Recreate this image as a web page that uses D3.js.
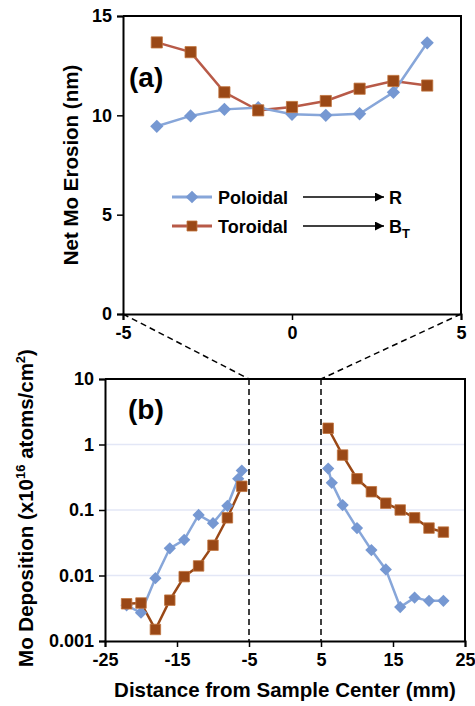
<!DOCTYPE html>
<html>
<head>
<meta charset="utf-8">
<script src="https://cdn.jsdelivr.net/npm/d3@7"></script>
<style>
  body { margin: 0; background: #fff; }
  text { font-family: "Liberation Sans", Arial, sans-serif; font-weight: bold; fill: #000; }
</style>
</head>
<body>
<svg id="chart" width="475" height="706"></svg>
<script>
//
// Data
//

// (a) net erosion, x in mm from sample center
var topX = [-4, -3, -2, -1, 0, 1, 2, 3, 4]
var topPoloidal = [9.45, 9.97, 10.3, 10.39, 10.05, 10.0, 10.08, 11.16, 13.65]
var topToroidal = [13.67, 13.18, 11.16, 10.25, 10.42, 10.72, 11.34, 11.73, 11.5]

// (b) deposition, x10^16 atoms/cm2
var polLeftX = [-22, -20, -18, -16, -14, -12, -10, -8, -6.5, -6]
var polLeft = [0.0035, 0.0027, 0.0091, 0.026, 0.035, 0.084, 0.063, 0.116, 0.30, 0.40]
var torLeftX = [-22, -20, -18, -16, -14, -12, -10, -8, -6]
var torLeft = [0.0037, 0.0038, 0.0015, 0.0042, 0.0096, 0.014, 0.029, 0.076, 0.23]
var polRightX = [6, 6.5, 8, 10, 12, 14, 16, 18, 20, 22]
var polRight = [0.43, 0.26, 0.119, 0.053, 0.0245, 0.0124, 0.0033, 0.0046, 0.0041, 0.0041]
var torRightX = [6, 8, 10, 12, 14, 16, 18, 20, 22]
var torRight = [1.77, 0.69, 0.30, 0.19, 0.127, 0.10, 0.076, 0.053, 0.046]

var topXTicks = [-5, 0, 5]
var topYTicks = [0, 5, 10, 15]
var botXTicks = [-25, -15, -5, 5, 15, 25]
var botYTicks = [10, 1, 0.1, 0.01, 0.001]
var botYLabels = ['10', '1', '0.1', '0.01', '0.001']

// colors
var colorPolMarker = '#7698d2'
var colorPolLine = '#87a6d9'
var colorTorMarker = '#9a4816'
var colorTorEdge = '#c0743e'
var colorTorLineTop = '#b85a48'
var colorTorLineBot = '#9a4816'
var colorGrid = '#e3e7f6'

var tickFont = 18
var titleFont = 20.5

var svg = d3.select('#chart')

//
// Scales
//

var xTop = d3.scaleLinear().domain([-5, 5]).range([123, 461])
var yTop = d3.scaleLinear().domain([0, 15]).range([314, 16])
var xBot = d3.scaleLinear().domain([-25, 25]).range([105, 465])
var yBot = d3.scaleLog().domain([0.001, 10]).range([641, 379])

// plain hyphen for negatives, like the original
function plain(d) { return String(d) }

function styleAxis(g, size) {
  g.select('.domain').attr('stroke', '#000').attr('stroke-width', 2)
  g.selectAll('.tick line').attr('stroke', '#000').attr('stroke-width', 1.5)
  g.selectAll('.tick text').attr('font-size', size)
    .attr('font-family', '"Liberation Sans", Arial, sans-serif')
    .attr('font-weight', 'bold').attr('fill', '#000')
}

function diamond(g, xs, ys, sx, sy, area, fill) {
  g.selectAll(null).data(xs).enter().append('path')
    .attr('d', d3.symbol().type(d3.symbolSquare).size(area))
    .attr('transform', function(d, i) { return 'translate(' + sx(d) + ',' + sy(ys[i]) + ') rotate(45)' })
    .attr('fill', fill)
}

function square(g, xs, ys, sx, sy, area) {
  g.selectAll(null).data(xs).enter().append('path')
    .attr('d', d3.symbol().type(d3.symbolSquare).size(area))
    .attr('transform', function(d, i) { return 'translate(' + sx(d) + ',' + sy(ys[i]) + ')' })
    .attr('fill', colorTorMarker)
    .attr('stroke', colorTorEdge).attr('stroke-width', 0.8)
}

function line(g, xs, ys, sx, sy, color) {
  var pts = xs.map(function(d, i) { return [sx(d), sy(ys[i])] })
  g.append('path').attr('d', d3.line()(pts))
    .attr('fill', 'none').attr('stroke', color).attr('stroke-width', 2.5)
}

//
// Panel (a)
//

var gTop = svg.append('g')

gTop.append('g').attr('transform', 'translate(0,314)')
  .call(d3.axisBottom(xTop).tickValues(topXTicks).tickSize(6).tickPadding(6).tickFormat(plain))
  .call(styleAxis, tickFont)
gTop.append('g').attr('transform', 'translate(123,0)')
  .call(d3.axisLeft(yTop).tickValues(topYTicks).tickSize(6).tickPadding(5).tickFormat(plain))
  .call(styleAxis, tickFont)
gTop.append('path').attr('d', d3.line()([[xTop(-5), yTop(15)], [xTop(5), yTop(15)], [xTop(5), yTop(0)]]))
  .attr('fill', 'none').attr('stroke', '#000').attr('stroke-width', 2)

line(gTop, topX, topToroidal, xTop, yTop, colorTorLineTop)
line(gTop, topX, topPoloidal, xTop, yTop, colorPolLine)
diamond(gTop, topX, topPoloidal, xTop, yTop, 88, colorPolMarker)
square(gTop, topX, topToroidal, xTop, yTop, 125)

gTop.append('text').attr('x', 129).attr('y', 87).attr('font-size', 28).text('(a)')

// legend
var legend = gTop.append('g')
svg.append('defs').append('marker').attr('id', 'arrow')
  .attr('viewBox', '0 0 10 10').attr('refX', 10).attr('refY', 5)
  .attr('markerWidth', 6).attr('markerHeight', 6).attr('orient', 'auto')
  .append('path').attr('d', 'M0,0 L10,5 L0,10 Z').attr('fill', '#000')

var legendRows = [
  { name: 'Poloidal', dir: 'R', sub: '', y: 197, color: colorPolLine },
  { name: 'Toroidal', dir: 'B', sub: 'T', y: 226, color: colorTorLineTop }
]
legendRows.forEach(function(r, i) {
  legend.append('line').attr('x1', 172).attr('x2', 212).attr('y1', r.y).attr('y2', r.y)
    .attr('stroke', r.color).attr('stroke-width', 3)
  if (i === 0) {
    legend.append('path').attr('d', d3.symbol().type(d3.symbolSquare).size(80))
      .attr('transform', 'translate(192,' + r.y + ') rotate(45)').attr('fill', colorPolMarker)
  } else {
    legend.append('path').attr('d', d3.symbol().type(d3.symbolSquare).size(100))
      .attr('transform', 'translate(192,' + r.y + ')').attr('fill', colorTorMarker)
      .attr('stroke', colorTorEdge).attr('stroke-width', 0.8)
  }
  legend.append('text').attr('x', 218).attr('y', r.y + 6.5).attr('font-size', 18).text(r.name)
  legend.append('line').attr('x1', 303).attr('x2', 384).attr('y1', r.y).attr('y2', r.y)
    .attr('stroke', '#000').attr('stroke-width', 1.5).attr('marker-end', 'url(#arrow)')
  var t = legend.append('text').attr('x', 389).attr('y', r.y + 6.5).attr('font-size', 18).text(r.dir)
  if (r.sub) t.append('tspan').attr('font-size', 13).attr('dy', 5).text(r.sub)
})

svg.append('text').attr('transform', 'translate(78,165) rotate(-90)')
  .attr('text-anchor', 'middle').attr('font-size', titleFont).text('Net Mo Erosion (nm)')

//
// Panel (b)
//

var gBot = svg.append('g')

gBot.selectAll('.grid').data([1, 0.1, 0.01]).enter().append('line')
  .attr('x1', 106).attr('x2', 464)
  .attr('y1', function(d) { return yBot(d) }).attr('y2', function(d) { return yBot(d) })
  .attr('stroke', colorGrid).attr('stroke-width', 1.5)

gBot.append('g').attr('transform', 'translate(0,641)')
  .call(d3.axisBottom(xBot).tickValues(botXTicks).tickSize(6).tickPadding(6).tickFormat(plain))
  .call(styleAxis, tickFont)
gBot.append('g').attr('transform', 'translate(105,0)')
  .call(d3.axisLeft(yBot).tickValues(botYTicks).tickSize(6).tickPadding(5)
    .tickFormat(function(d, i) { return botYLabels[i] }))
  .call(styleAxis, tickFont)
gBot.append('path').attr('d', d3.line()([[xBot(-25), yBot(10)], [xBot(25), yBot(10)], [xBot(25), yBot(0.001)]]))
  .attr('fill', 'none').attr('stroke', '#000').attr('stroke-width', 2)

// zoom guides between panels
var dash = '6,4'
;[-5, 5].forEach(function(v) {
  gBot.append('line').attr('x1', xBot(v)).attr('x2', xBot(v)).attr('y1', yBot(10)).attr('y2', yBot(0.001))
    .attr('stroke', '#000').attr('stroke-width', 1.5).attr('stroke-dasharray', dash)
  gBot.append('line').attr('x1', xTop(v)).attr('y1', yTop(0)).attr('x2', xBot(v)).attr('y2', yBot(10))
    .attr('stroke', '#000').attr('stroke-width', 1.5).attr('stroke-dasharray', dash)
})

line(gBot, torLeftX, torLeft, xBot, yBot, colorTorLineBot)
line(gBot, torRightX, torRight, xBot, yBot, colorTorLineBot)
line(gBot, polLeftX, polLeft, xBot, yBot, colorPolLine)
line(gBot, polRightX, polRight, xBot, yBot, colorPolLine)
diamond(gBot, polLeftX, polLeft, xBot, yBot, 75, colorPolMarker)
diamond(gBot, polRightX, polRight, xBot, yBot, 75, colorPolMarker)
square(gBot, torLeftX, torLeft, xBot, yBot, 110)
square(gBot, torRightX, torRight, xBot, yBot, 110)

gBot.append('text').attr('x', 128).attr('y', 419).attr('font-size', 28).text('(b)')

var yt = svg.append('text').attr('transform', 'translate(33,508) rotate(-90)')
  .attr('text-anchor', 'middle').attr('font-size', titleFont)
yt.append('tspan').text('Mo Deposition (x10')
yt.append('tspan').attr('font-size', 13).attr('dy', -8).text('16')
yt.append('tspan').attr('dy', 8).text(' atoms/cm')
yt.append('tspan').attr('font-size', 13).attr('dy', -8).text('2')
yt.append('tspan').attr('dy', 8).text(')')

svg.append('text').attr('x', 285).attr('y', 697).attr('text-anchor', 'middle')
  .attr('font-size', titleFont).text('Distance from Sample Center (mm)')
</script>
</body>
</html>
